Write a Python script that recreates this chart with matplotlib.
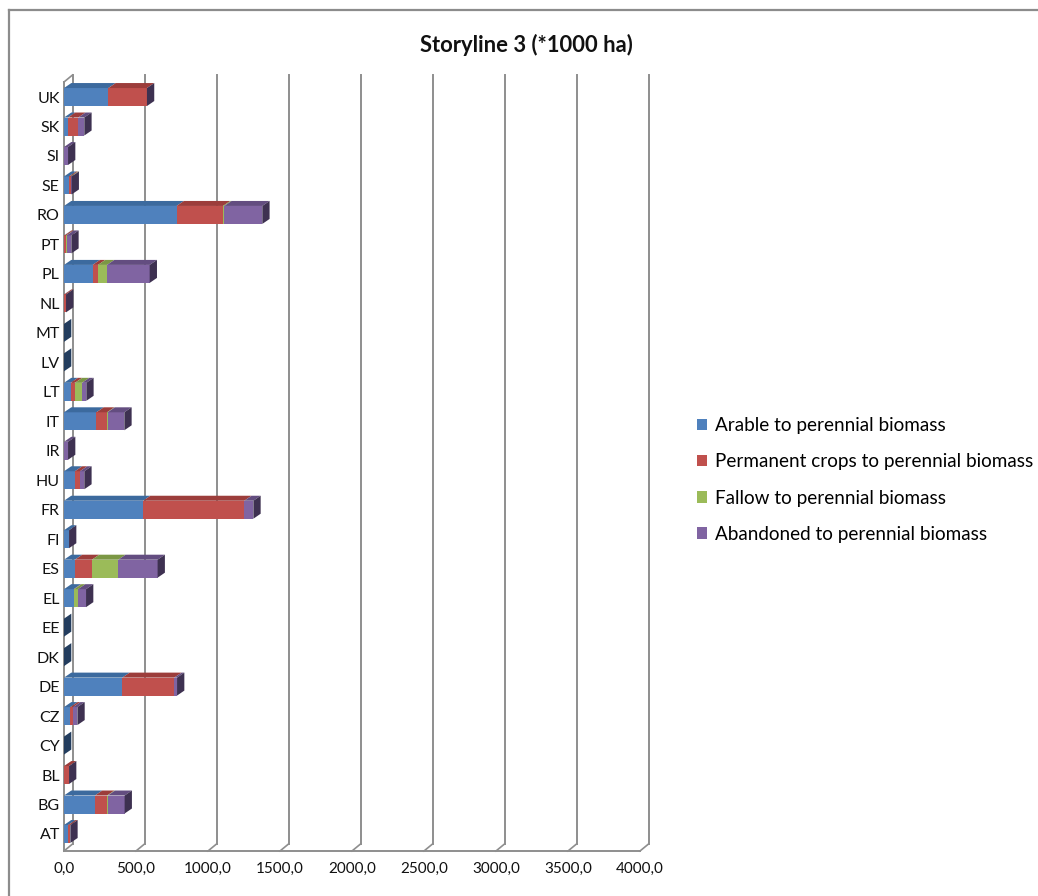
import matplotlib
matplotlib.use("Agg")
import matplotlib.pyplot as plt
from matplotlib.patches import Polygon, Patch
from matplotlib.lines import Line2D
from matplotlib.transforms import ScaledTranslation

plt.rcParams['font.family'] = ['Lato', 'DejaVu Sans']

# Member states, bottom to top
countries = ['AT', 'BG', 'BL', 'CY', 'CZ', 'DE', 'DK', 'EE', 'EL', 'ES', 'FI', 'FR', 'HU',
             'IR', 'IT', 'LT', 'LV', 'MT', 'NL', 'PL', 'PT', 'RO', 'SE', 'SI', 'SK', 'UK']

# Land converted to perennial biomass (*1000 ha)
arable    = [30, 215, 0, 0, 44, 405, 0, 0, 67, 76, 35, 549, 76,
             0, 225, 46, 0, 0, 2, 199, 3, 782, 35, 0, 28, 308]
permanent = [14, 84, 35, 0, 19, 361, 0, 0, 4, 118, 0, 703, 35,
             0, 74, 30, 0, 0, 12, 37, 13, 322, 11, 0, 71, 268]
fallow    = [0, 5, 0, 0, 0, 0, 0, 0, 26, 183, 0, 0, 0,
             0, 4, 49, 0, 0, 0, 63, 2, 9, 5, 0, 0, 0]
abandoned = [0, 117, 0, 0, 30, 19, 0, 0, 56, 273, 0, 63, 30,
             28, 116, 30, 0, 0, 0, 296, 33, 264, 2, 28, 42, 0]

series = [
    ('Arable to perennial biomass', arable, '#4F81BD', '#3C6A9E'),
    ('Permanent crops to perennial biomass', permanent, '#C0504D', '#9C3D3B'),
    ('Fallow to perennial biomass', fallow, '#9BBB59', '#7B9744'),
    ('Abandoned to perennial biomass', abandoned, '#8064A2', '#634D80'),
]
side_colour = '#3E3151'
empty_side_colour = '#233D5E'

xticks = [0, 500, 1000, 1500, 2000, 2500, 3000, 3500, 4000]
xticklabels = ['0,0', '500,0', '1000,0', '1500,0', '2000,0', '2500,0', '3000,0', '3500,0', '4000,0']

W, H = 1038, 896
fig = plt.figure(figsize=(W / 100, H / 100), dpi=100)
text_col = '#111111'

# chart area frame (top and left edges visible)
frame_col = '#8C8C8C'
fig.add_artist(Line2D([9 / W, 1.0], [1 - 10 / H, 1 - 10 / H], color=frame_col, lw=1.6,
                      transform=fig.transFigure))
fig.add_artist(Line2D([9 / W, 9 / W], [0, 1 - 10 / H], color=frame_col, lw=1.6,
                      transform=fig.transFigure))

fig.text(526 / W, 1 - 45 / H, 'Storyline 3 (*1000 ha)', ha='center', va='center',
         fontsize=15.8, fontweight='bold', color=text_col)

ax_left, ax_right = 64, 640
ax_top, ax_bot = 82, 851
ax = fig.add_axes([ax_left / W, 1 - ax_bot / H, (ax_right - ax_left) / W, (ax_bot - ax_top) / H])
xmin, xmax = 0, 4000
ymin, ymax = -0.577, 25.51
ax.set_xlim(xmin, xmax)
ax.set_ylim(ymin, ymax)
for s in ax.spines.values():
    s.set_visible(False)
ax.patch.set_visible(False)

# walls and floor: the back plane is shifted up-right from the front plane
grid_col = '#8E8E8E'
back = ax.transData + ScaledTranslation(8.5 / 100, 7 / 100, fig.dpi_scale_trans)
for v in xticks:
    ax.plot([v, v], [ymin, ymax], color=grid_col, lw=1.4, transform=back, clip_on=False, zorder=1)
    bx, by = back.transform((v, ymin))
    fx, fy = ax.transData.transform((v, ymin))
    fig.add_artist(Line2D([fx / W, bx / W], [fy / H, by / H], color=grid_col, lw=1.2,
                          transform=fig.transFigure, zorder=1))
ax.plot([xmin, xmax], [ymin, ymin], color=grid_col, lw=1.4, clip_on=False, zorder=1)
ax.plot([xmin, xmin], [ymin, ymax], color=grid_col, lw=1.4, clip_on=False, zorder=1)
bx, by = back.transform((xmin, ymax))
fx, fy = ax.transData.transform((xmin, ymax))
fig.add_artist(Line2D([fx / W, bx / W], [fy / H, by / H], color=grid_col, lw=1.2,
                      transform=fig.transFigure, zorder=1))

# stacked bars: front faces via barh, top and side faces as depth polygons
bar_h = 0.61
ddx = 7.3 * (xmax - xmin) / (ax_right - ax_left)
ddy = 5.0 * (ymax - ymin) / (ax_bot - ax_top)
ypos = list(range(len(countries)))
left = [0.0] * len(countries)
for name, vals, col, top_col in series:
    ax.barh(ypos, vals, left=left, height=bar_h, color=col, edgecolor='none', zorder=3, label=name)
    for i, v in enumerate(vals):
        if v > 0:
            x0, x1 = left[i], left[i] + v
            yt = i + bar_h / 2
            ax.add_patch(Polygon([(x0, yt), (x1, yt), (x1 + ddx, yt + ddy), (x0 + ddx, yt + ddy)],
                                 closed=True, facecolor=top_col, edgecolor='none', zorder=3))
    left = [l + v for l, v in zip(left, vals)]

for i, tot in enumerate(left):
    yb, yt = i - bar_h / 2, i + bar_h / 2
    col = side_colour if tot > 0 else empty_side_colour
    ax.add_patch(Polygon([(tot, yb), (tot, yt), (tot + ddx, yt + ddy), (tot + ddx, yb + ddy)],
                         closed=True, facecolor=col, edgecolor='none', zorder=4))

ax.set_yticks(ypos)
ax.set_yticklabels(countries, fontsize=11.5, color=text_col)
ax.set_xticks(xticks)
ax.set_xticklabels(xticklabels, fontsize=11, color=text_col)
ax.tick_params(axis='both', length=0)
ax.tick_params(axis='y', pad=3)
ax.tick_params(axis='x', pad=8)

handles = [Patch(facecolor=c, edgecolor='none') for _, _, c, _ in series]
labels = [n for n, _, _, _ in series]
fig.legend(handles, labels, loc='upper left', bbox_to_anchor=(697 / W, 1 - 417 / H),
           frameon=False, fontsize=13.6, handlelength=0.55, handleheight=0.55,
           handletextpad=0.4, labelspacing=1.02, borderaxespad=0, borderpad=0)

fig.savefig('out.png', dpi=100, facecolor='white')
